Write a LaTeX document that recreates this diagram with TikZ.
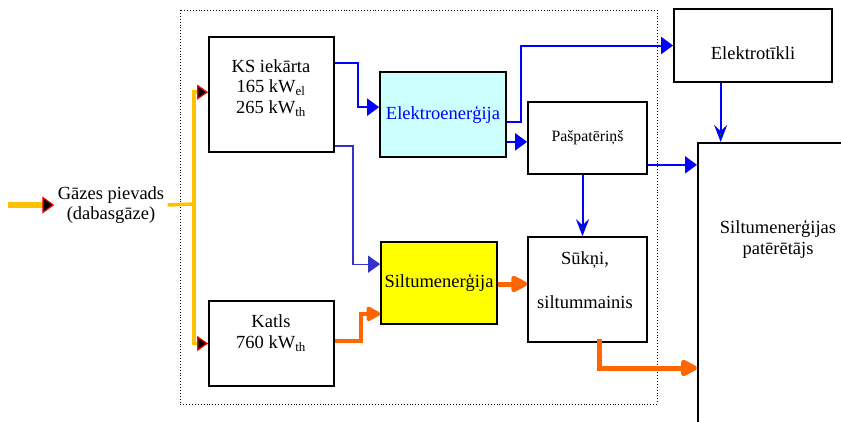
\documentclass[tikz,border=0pt]{standalone}
\usepackage{fontspec}
\setmainfont{Liberation Serif}
\usetikzlibrary{positioning, calc, arrows.meta}
\definecolor{GasYellow}{HTML}{FFC000}
\definecolor{HeatOrange}{HTML}{FF6600}
\definecolor{ElBlue}{HTML}{0000FF}
\definecolor{ElBlueThin}{HTML}{3333CC}
\definecolor{ElCyan}{HTML}{CCFFFF}
\definecolor{HeatYellow}{HTML}{FFFF00}
\definecolor{TipGreen}{HTML}{006600}
\tikzset{
    unitbox/.style={rectangle, draw=black, line width=1.7pt, fill=white, inner sep=0pt},
    boxtext/.style={align=center, font=\fontsize{18.5}{20.5}\selectfont, text=black},
    gasline/.style={GasYellow, line width=3.5pt},
    gastip/.style={-{Triangle[length=11pt, width=15pt, color=red, fill=black, line width=1.2pt]}},
    elline/.style={ElBlue, line width=2pt, -{Triangle[length=12pt, width=17pt]}},
    eldown/.style={ElBlue, line width=2pt, -{Stealth[length=17pt, width=13pt, inset=6pt, fill=TipGreen]}},
    heatline/.style={HeatOrange, line width=5pt, -{Triangle[length=19pt, width=18pt, round]}},
}
\begin{document}
\begin{tikzpicture}[x=1pt, y=-1pt]
    \useasboundingbox (0,0) rectangle (841,421);

    % robeza (punktota)
    \draw[dotted, line width=0.9pt] (180,10) rectangle (657,404);

    % bloki
    \node[unitbox, minimum width=125pt, minimum height=115pt] (ks) at (271.5,94.5) {};
    \node[unitbox, minimum width=125pt, minimum height=85pt] (katls) at (271.5,343.5) {};
    \node[unitbox, fill=ElCyan, minimum width=126pt, minimum height=85pt, boxtext, text=ElBlue] (elen) at (443,114.5) {Elektroenerģija};
    \node[unitbox, fill=HeatYellow, minimum width=116pt, minimum height=82pt, boxtext] (siltum) at (439,283) {Siltumenerģija};
    \node[unitbox, minimum width=119pt, minimum height=72pt, boxtext, font=\fontsize{15.8}{18}\selectfont] (pasp) at (587.5,138) {Pašpatēriņš};
    \node[unitbox, minimum width=158pt, minimum height=73pt] (tikli) at (753,45.5) {};
    \node[unitbox, minimum width=119pt, minimum height=105pt] (sukni) at (587.5,289.5) {};
    \node[unitbox, anchor=north west, minimum width=200pt, minimum height=320pt] (user) at (697,142) {};

    % teksti
    \node[boxtext] (gas) at (111,205) {Gāzes pievads\\(dabasgāze)};
    \node[boxtext] (kstext) at (271,88) {KS iekārta\\165 kW\textsubscript{el}\\265 kW\textsubscript{th}};
    \node[boxtext] (katlstext) at (271,333) {Katls\\760 kW\textsubscript{th}};
    \node[boxtext] (tiklitext) at (753,53) {Elektrotīkli};
    \node[boxtext] (suknitext) at (585,280) {Sūkņi,\\[24pt]siltummainis};
    \node[boxtext] (usertext) at (778,239) {Siltumenerģijas\\patērētājs};

    % gāze
    \coordinate (gasIn) at (8,205);
    \coordinate (busMid) at (194,204);
    \draw[gasline, line width=6pt, -{Triangle[length=12pt, width=17pt, color=red, fill=black, line width=1.2pt]}] (gasIn) -- (gas.west);
    \draw[gasline] (gas.east) -- (busMid);
    \draw[gasline, gastip] (busMid) |- ($(ks.north west)+(0,56)$);
    \draw[gasline, gastip] (busMid) |- (katls.west);

    % elektrība
    \draw[elline] ($(ks.north east)+(0,27)$) -- ++(23,0) |- ($(elen.north west)+(0,36)$);
    \draw[elline, ElBlueThin, line width=1.3pt] ($(ks.south east)+(0,-7)$) -- ++(18,0) |- ($(siltum.north west)+(0,23)$);
    \draw[elline] ($(elen.south east)+(0,-36)$) -- ++(14,0) |- (tikli.west);
    \coordinate (elP) at ($(elen.south east)+(0,-16)$);
    \draw[elline] (elP) -- (elP -| pasp.west);
    \draw[eldown] ($(pasp.south)+(-5,0)$) -- ($(sukni.north)+(-5,0)$);
    \coordinate (pOut) at ($(pasp.south east)+(0,-10)$);
    \draw[elline] (pOut) -- (pOut -| user.west);
    \coordinate (tOut) at ($(tikli.south west)+(47.5,0)$);
    \draw[eldown] (tOut) -- (tOut |- user.north);

    % siltums
    \draw[heatline, line width=4pt, -{Triangle[length=16pt, width=16pt, round]}] ($(katls.north east)+(0,41)$) -- ++(26,0) |- ($(siltum.south west)+(0,-11)$);
    \coordinate (sOut) at ($(siltum.east)+(0,1)$);
    \draw[heatline] (sOut) -- (sOut -| sukni.west);
    \coordinate (uIn) at ($(user.north west)+(0,226)$);
    \draw[heatline] ($(sukni.south west)+(72,-4)$) |- (uIn);
\end{tikzpicture}
\end{document}
